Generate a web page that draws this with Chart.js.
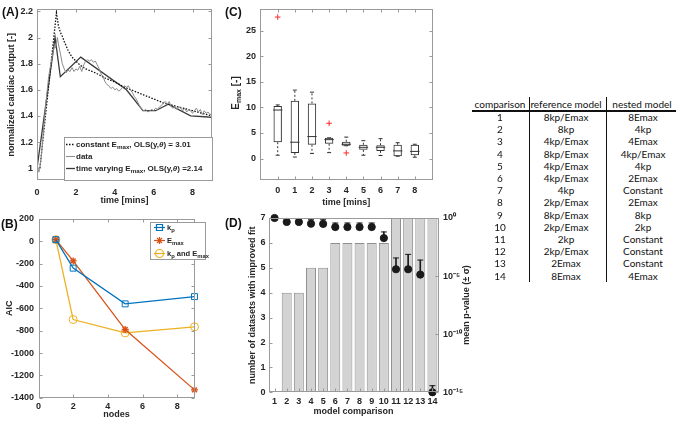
<!DOCTYPE html>
<html>
<head>
<meta charset="utf-8">
<script src="https://cdn.jsdelivr.net/npm/chart.js@4.4.1/dist/chart.umd.min.js"></script>
<style>
  body { margin: 0; background: #fff; }
  #wrap { position: relative; width: 676px; height: 422px; overflow: hidden; font-family: "Liberation Sans", Arial, sans-serif; color: #262626; }
  canvas { position: absolute; }
  .panel { position: absolute; font-weight: bold; font-size: 12px; color: #111; }
  .rot { position: absolute; font-weight: bold; white-space: nowrap; transform: translate(-50%, -50%) rotate(-90deg); }
  .rot sub { font-size: 7px; vertical-align: -2px; }
  .cell { position: absolute; font-family: Lato, sans-serif; font-size: 10px; color: #111; white-space: nowrap; transform: translate(-50%, -50%); }
  .rule { position: absolute; background: #111; }
</style>
</head>
<body>
<div id="wrap">
  <canvas id="cA" width="216" height="210" style="left:0;top:0"></canvas>
  <canvas id="cB" width="215" height="215" style="left:0;top:205px"></canvas>
  <canvas id="cC" width="215" height="210" style="left:225px;top:0"></canvas>
  <canvas id="cD" width="255" height="215" style="left:225px;top:205px"></canvas>
  <div class="panel" style="left:2px;top:5px">(A)</div>
  <div class="panel" style="left:1px;top:217px">(B)</div>
  <div class="panel" style="left:225px;top:5px">(C)</div>
  <div class="panel" style="left:225px;top:216px">(D)</div>
  <div class="rot" style="left:236px;top:93px;font-size:10px">E<sub>max</sub> [-]</div>
  <div class="rot" style="left:466px;top:305px;font-size:9px">mean p-value (± σ)</div>
</div>
<script>
// (A) normalized cardiac output
const timeData = [0, 0.1, 0.2, 0.3, 0.4, 0.5, 0.6, 0.7, 0.8, 0.9, 0.95, 1.0, 1.05, 1.1, 1.2, 1.3, 1.4, 1.5, 1.6, 1.7, 1.8, 1.9,
  2.0, 2.1, 2.2, 2.3, 2.4, 2.5, 2.6, 2.7, 2.8, 2.9, 3.0, 3.1, 3.2, 3.3, 3.4, 3.5, 3.6, 3.7, 3.8, 3.9, 4.0, 4.1, 4.2, 4.3,
  4.4, 4.5, 4.6, 4.7, 4.8, 4.9, 5.0, 5.1, 5.2, 5.3, 5.4, 5.5, 5.6, 5.7, 5.8, 5.9, 6.0, 6.1, 6.2, 6.3, 6.4, 6.5, 6.6, 6.7,
  6.8, 6.9, 7.0, 7.1, 7.2, 7.3, 7.4, 7.5, 7.6, 7.7, 7.8, 7.9, 8.0, 8.1, 8.2, 8.3, 8.4, 8.5, 8.6, 8.7, 8.8, 8.9, 9.0];
const outputData = [1.02, 0.97, 1.06, 1.22, 1.40, 1.56, 1.70, 1.79, 1.87, 1.94, 1.92, 1.96, 2.00, 1.95, 1.88, 1.80, 1.76, 1.73, 1.75, 1.74, 1.77, 1.74,
  1.76, 1.75, 1.78, 1.74, 1.79, 1.82, 1.83, 1.82, 1.83, 1.81, 1.82, 1.79, 1.76, 1.72, 1.70, 1.66, 1.64, 1.63, 1.61, 1.62, 1.60, 1.61, 1.59, 1.60,
  1.62, 1.63, 1.62, 1.63, 1.60, 1.58, 1.55, 1.53, 1.50, 1.47, 1.45, 1.44, 1.45, 1.43, 1.44, 1.45, 1.44, 1.46, 1.45, 1.47, 1.48, 1.50, 1.51, 1.49,
  1.51, 1.47, 1.46, 1.47, 1.45, 1.47, 1.46, 1.44, 1.46, 1.43, 1.45, 1.44, 1.42, 1.44, 1.46, 1.43, 1.45, 1.41, 1.44, 1.42, 1.43, 1.41, 1.42];
const timeConst = [0, 0.15, 1.0, 1.1, 1.2, 1.3, 1.4, 1.6, 1.8, 2.0, 2.2, 2.5, 3.0, 3.5, 4.0, 4.5, 5.0, 5.5, 6.0, 6.5, 7.0, 7.5, 8.0, 8.5, 9.0];
const outputConst = [1.0, 1.0, 2.19, 2.09, 2.04, 2.01, 1.97, 1.90, 1.85, 1.82, 1.79, 1.76, 1.73, 1.69, 1.66, 1.62, 1.59, 1.56, 1.53, 1.50, 1.48, 1.46, 1.44, 1.42, 1.40];
const timeVarying = [0, 0.93, 1.2, 2.25, 4.6, 5.45, 6.1, 6.75, 7.9, 9.0];
const outputVarying = [1.0, 2.0, 1.70, 1.85, 1.60, 1.44, 1.44, 1.49, 1.40, 1.39];
const ticksAx = [0, 2, 4, 6, 8];
const ticksAy = [1, 1.2, 1.4, 1.6, 1.8, 2, 2.2];

// (B) AIC vs nodes
const nodes = [1, 2, 5, 9];
const aicKp = [15, -240, -560, -495];
const aicEmax = [15, -175, -790, -1330];
const aicBoth = [15, -700, -820, -765];
const ticksBx = [0, 2, 4, 6, 8];
const ticksBy = [200, 0, -200, -400, -600, -800, -1000, -1200, -1400];

// (C) Emax box plots
const cTime = [0, 1, 2, 3, 4, 5, 6, 7, 8];
const cWhiskLo = [0.65, 0.3, 1.0, 1.16, 2.5, 0.65, 0.6, 0.45, 0.26];
const cQ1 = [3.2, 1.1, 2.7, 2.9, 2.5, 1.7, 1.5, 0.45, 0.65];
const cMedian = [9.5, 3.2, 4.3, 3.7, 2.8, 2.2, 2.2, 1.5, 1.4];
const cQ3 = [10.3, 11.3, 10.8, 4.06, 3.3, 2.7, 2.6, 2.7, 2.7];
const cWhiskHi = [10.5, 13.4, 13.0, 4.06, 4.2, 3.5, 3.9, 3.1, 2.8];
const cOutX = [0, 3, 4];
const cOutY = [27.7, 6.9, 1.1];
const ticksCy = [0, 5, 10, 15, 20, 25];

// (D) improved fits and p-values
const comparisons = ['1', '2', '3', '4', '5', '6', '7', '8', '9', '10', '11', '12', '13', '14'];
const improvedCount = [0, 4, 4, 5, 5, 6, 6, 6, 6, 6, 7, 7, 7, 7];
const meanLogP = [0, -0.34, -0.34, -0.49, -0.51, -0.78, -0.78, -0.78, -0.78, -1.73, -4.41, -4.41, -4.87, -15];
const upperLogP = [null, -0.06, -0.06, -0.15, -0.15, -0.43, -0.43, -0.43, -0.43, -1.2, -3.44, -3.13, -3.62, -14.43];
const ticksDy = [0, 1, 2, 3, 4, 5, 6, 7];
const ticksDp = [-15, -10, -5, 0];

// table
const refModel = ['8kp/Emax', '8kp', '4kp/Emax', '8kp/Emax', '4kp/Emax', '4kp/Emax', '4kp', '2kp/Emax', '8kp/Emax', '2kp/Emax', '2kp', '2kp/Emax', '2Emax', '8Emax'];
const nestedModel = ['8Emax', '4kp', '4Emax', '4kp/Emax', '4kp', '2Emax', 'Constant', '2Emax', '8kp', '2kp', 'Constant', 'Constant', 'Constant', '4Emax'];

Chart.defaults.font.family = '"Liberation Sans", Arial, sans-serif';
Chart.defaults.font.size = 9;
Chart.defaults.font.weight = 'bold';
Chart.defaults.color = '#262626';

const fit = n => s => { if (s.isHorizontal()) s.height = n; else s.width = n; };
const setTicks = arr => s => { s.ticks = arr.map(v => ({ value: v })); };
const plain = v => String(v);
const noGrid = { display: false, drawTicks: false };
const pts = (xs, ys) => xs.map((x, i) => ({ x: x, y: ys[i] }));
const SUP = { '-': '⁻', '0': '⁰', '1': '¹', '2': '²', '3': '³', '4': '⁴', '5': '⁵', '6': '⁶', '7': '⁷', '8': '⁸', '9': '⁹' };
const pow10 = v => '10' + String(v).split('').map(c => SUP[c]).join('');

// box round the axes with small inward ticks, like matlab
const framePlugin = {
  id: 'frame',
  afterDraw(chart, args, o) {
    const { ctx, chartArea: a } = chart;
    ctx.save();
    ctx.strokeStyle = '#9a9a9a';
    ctx.lineWidth = 1;
    const L = Math.round(a.left) + 0.5, T = Math.round(a.top) + 0.5, R = Math.round(a.right) - 0.5, B = Math.round(a.bottom) - 0.5;
    ctx.strokeRect(L, T, R - L, B - T);
    ctx.beginPath();
    Object.values(chart.scales).forEach(s => {
      s.ticks.forEach((t, i) => {
        const p = Math.round(s.getPixelForTick(i)) + 0.5;
        if (s.isHorizontal()) {
          ctx.moveTo(p, B); ctx.lineTo(p, B - 3);
          if (o.both) { ctx.moveTo(p, T); ctx.lineTo(p, T + 3); }
        } else {
          if (s.position === 'left' || o.both) { ctx.moveTo(L, p); ctx.lineTo(L + 3, p); }
          if (s.position === 'right' || o.both) { ctx.moveTo(R, p); ctx.lineTo(R - 3, p); }
        }
      });
    });
    ctx.stroke();
    ctx.restore();
  }
};

function drawMarker(ctx, style, x, y) {
  ctx.beginPath();
  if (style === 'rect') {
    ctx.rect(x - 3, y - 3, 6, 6);
  } else if (style === 'circle') {
    ctx.arc(x, y, 4, 0, Math.PI * 2);
  } else if (style === 'star') {
    const r = 3.5, d = r * Math.SQRT1_2;
    ctx.moveTo(x - r, y); ctx.lineTo(x + r, y);
    ctx.moveTo(x, y - r); ctx.lineTo(x, y + r);
    ctx.moveTo(x - d, y - d); ctx.lineTo(x + d, y + d);
    ctx.moveTo(x - d, y + d); ctx.lineTo(x + d, y - d);
  }
  ctx.stroke();
}

// legend drawn by hand so that subscripts work
const legendPlugin = {
  id: 'legendBox',
  afterDraw(chart, args, o) {
    if (!o.rows) return;
    const ctx = chart.ctx;
    ctx.save();
    ctx.fillStyle = '#fff';
    ctx.fillRect(o.x, o.y, o.w, o.h);
    ctx.strokeStyle = '#9a9a9a';
    ctx.lineWidth = 1;
    ctx.strokeRect(o.x + 0.5, o.y + 0.5, o.w - 1, o.h - 1);
    o.rows.forEach((r, i) => {
      const cy = o.y + o.top + i * o.step;
      ctx.strokeStyle = r.color;
      ctx.lineWidth = r.width;
      ctx.setLineDash(r.dash || []);
      ctx.beginPath();
      ctx.moveTo(o.x + o.sx, cy);
      ctx.lineTo(o.x + o.sx + o.sw, cy);
      ctx.stroke();
      ctx.setLineDash([]);
      if (r.marker) drawMarker(ctx, r.marker, o.x + o.sx + o.sw / 2, cy);
      let tx = o.x + o.tx;
      ctx.fillStyle = '#262626';
      ctx.textBaseline = 'middle';
      r.text.forEach(([s, k]) => {
        const size = k === 'sub' ? o.size * 0.78 : o.size;
        ctx.font = (k === 'it' ? 'italic ' : '') + 'bold ' + size + 'px "Liberation Sans", Arial';
        ctx.fillText(s, tx, k === 'sub' ? cy + o.size * 0.4 : cy);
        tx += ctx.measureText(s).width;
      });
    });
    ctx.restore();
  }
};

const base = {
  responsive: false,
  animation: false,
  elements: { point: { radius: 0 }, line: { tension: 0 } }
};

// (A)
new Chart(document.getElementById('cA'), {
  type: 'line',
  data: {
    datasets: [
      { data: pts(timeData, outputData), borderColor: '#8c8c8c', borderWidth: 1 },
      { data: pts(timeConst, outputConst), borderColor: '#111', borderWidth: 1.3, borderDash: [1.5, 1.5] },
      { data: pts(timeVarying, outputVarying), borderColor: '#3a3a3a', borderWidth: 1.3 }
    ]
  },
  options: {
    ...base,
    layout: { padding: { top: 7, right: 4, left: 0, bottom: 0 } },
    plugins: {
      legend: { display: false }, tooltip: { enabled: false },
      frame: { both: true },
      legendBox: {
        x: 64, y: 137, w: 149, h: 44, top: 7.5, step: 12, sx: 2, sw: 9, tx: 12, size: 8,
        rows: [
          { color: '#111', width: 1.3, dash: [1.5, 1.5], text: [['constant E', ''], ['max', 'sub'], [', OLS(y,', ''], ['θ', 'it'], [') = 3.01', '']] },
          { color: '#8c8c8c', width: 1, text: [['data', '']] },
          { color: '#3a3a3a', width: 1.3, text: [['time varying E', ''], ['max', 'sub'], [', OLS(y,', ''], ['θ', 'it'], [') =2.14', '']] }
        ]
      }
    },
    scales: {
      x: {
        type: 'linear', min: 0, max: 9, grid: noGrid, border: { display: false },
        afterBuildTicks: setTicks(ticksAx), afterFit: fit(30),
        ticks: { padding: 7, callback: plain },
        title: { display: true, text: 'time [mins]', padding: { top: 0, bottom: 3.6 } }
      },
      y: {
        min: 0.91, max: 2.215, grid: noGrid, border: { display: false },
        afterBuildTicks: setTicks(ticksAy), afterFit: fit(37),
        ticks: { padding: 4, callback: plain },
        title: { display: true, text: 'normalized cardiac output [-]', padding: { top: 6.6, bottom: 0 } }
      }
    }
  },
  plugins: [framePlugin, legendPlugin]
});

// (B)
new Chart(document.getElementById('cB'), {
  type: 'line',
  data: {
    datasets: [
      { data: pts(nodes, aicKp), borderColor: '#0072BD', borderWidth: 1.3, pointStyle: 'rect', pointRadius: 4.2, pointBorderWidth: 1, pointBackgroundColor: 'rgba(0,0,0,0)', clip: false },
      { data: pts(nodes, aicEmax), borderColor: '#D95319', borderWidth: 1.3, pointStyle: 'star', pointRadius: 3.5, pointBorderWidth: 1.4, clip: false },
      { data: pts(nodes, aicBoth), borderColor: '#EDB120', borderWidth: 1.3, pointStyle: 'circle', pointRadius: 4, pointBorderWidth: 1, pointBackgroundColor: 'rgba(0,0,0,0)', clip: false }
    ]
  },
  options: {
    ...base,
    layout: { padding: { top: 14, right: 20.5, left: 0, bottom: 0 } },
    plugins: {
      legend: { display: false }, tooltip: { enabled: false },
      frame: { both: true },
      legendBox: {
        x: 150, y: 17, w: 56, h: 38, top: 5.5, step: 13, sx: 4, sw: 11, tx: 17, size: 7.5,
        rows: [
          { color: '#0072BD', width: 1.2, marker: 'rect', text: [['k', ''], ['p', 'sub']] },
          { color: '#D95319', width: 1.2, marker: 'star', text: [['E', ''], ['max', 'sub']] },
          { color: '#EDB120', width: 1.2, marker: 'circle', text: [['k', ''], ['p', 'sub'], [' and E', ''], ['max', 'sub']] }
        ]
      }
    },
    scales: {
      x: {
        type: 'linear', min: 0, max: 9, grid: noGrid, border: { display: false },
        afterBuildTicks: setTicks(ticksBx), afterFit: fit(22.3),
        ticks: { padding: 3.5, callback: plain },
        title: { display: true, text: 'nodes', padding: { top: 0, bottom: 0 } }
      },
      y: {
        min: -1400, max: 200, grid: noGrid, border: { display: false },
        afterBuildTicks: setTicks(ticksBy), afterFit: fit(38.5),
        ticks: { padding: 4.5, callback: plain },
        title: { display: true, text: 'AIC', padding: { top: 4.6, bottom: 0 } }
      }
    }
  },
  plugins: [framePlugin, legendPlugin]
});

// (C)
const stems = [];
cTime.forEach((x, i) => {
  stems.push({ x: x, y: cQ3[i] }, { x: x, y: cWhiskHi[i] }, { x: x, y: null });
  stems.push({ x: x, y: cQ1[i] }, { x: x, y: cWhiskLo[i] }, { x: x, y: null });
});
new Chart(document.getElementById('cC'), {
  type: 'bar',
  data: {
    datasets: [
      { type: 'bar', data: cTime.map((x, i) => ({ x: x, y: [cQ1[i], cQ3[i]] })), backgroundColor: 'rgba(0,0,0,0)', borderColor: '#333', borderWidth: 1, borderSkipped: false, barPercentage: 0.49, categoryPercentage: 1, grouped: false },
      { type: 'line', data: stems, borderColor: '#333', borderWidth: 1, borderDash: [2, 2], pointRadius: 0, spanGaps: false },
      { type: 'scatter', data: pts(cTime, cMedian), pointStyle: 'line', pointRadius: 4.7, borderColor: '#333', pointBorderWidth: 1 },
      { type: 'scatter', data: pts(cTime, cWhiskHi).concat(pts(cTime, cWhiskLo)), pointStyle: 'line', pointRadius: 2, borderColor: '#333', pointBorderWidth: 1 },
      { type: 'scatter', data: pts(cOutX, cOutY), pointStyle: 'cross', pointRadius: 2.8, borderColor: '#ff2a2a', pointBorderWidth: 1 }
    ]
  },
  options: {
    ...base,
    layout: { padding: { top: 7, right: 7, left: 0, bottom: 0 } },
    plugins: { legend: { display: false }, tooltip: { enabled: false }, frame: { both: true } },
    scales: {
      x: {
        type: 'linear', min: -0.5, max: 8.5, grid: noGrid, border: { display: false },
        afterBuildTicks: setTicks(cTime), afterFit: fit(30),
        ticks: { padding: 5, callback: plain },
        title: { display: true, text: 'time [mins]', padding: { top: 0, bottom: 1.6 } }
      },
      y: {
        min: -4.2, max: 29.3, grid: noGrid, border: { display: false },
        afterBuildTicks: setTicks(ticksCy), afterFit: fit(34.5),
        ticks: { padding: 3.5, callback: plain }
      }
    }
  },
  plugins: [framePlugin]
});

// (D)
new Chart(document.getElementById('cD'), {
  type: 'bar',
  data: {
    labels: comparisons,
    datasets: [
      { type: 'line', data: meanLogP, yAxisID: 'y2', showLine: false, pointRadius: 3.6, pointBackgroundColor: '#1a1a1a', pointBorderColor: '#1a1a1a', clip: false, order: 1 },
      { type: 'line', data: upperLogP, yAxisID: 'y2', showLine: false, pointStyle: 'line', pointRadius: 3, pointBorderColor: '#1a1a1a', pointBorderWidth: 1, clip: false, order: 1 },
      { type: 'bar', data: meanLogP.map((m, i) => upperLogP[i] === null ? null : [m, upperLogP[i]]), yAxisID: 'y2', backgroundColor: '#1a1a1a', barThickness: 1, grouped: false, order: 2 },
      { type: 'bar', data: improvedCount, yAxisID: 'y', backgroundColor: '#d3d3d3', borderColor: '#8f8f8f', borderWidth: 1, barPercentage: 0.82, categoryPercentage: 1, grouped: false, order: 3 }
    ]
  },
  options: {
    ...base,
    layout: { padding: { top: 13, right: 0, left: 0, bottom: 0 } },
    plugins: { legend: { display: false }, tooltip: { enabled: false }, frame: { both: false } },
    scales: {
      x: {
        grid: noGrid, border: { display: false }, afterFit: fit(27.7),
        ticks: { padding: 3.5, autoSkip: false, maxRotation: 0 },
        title: { display: true, text: 'model comparison', padding: { top: 0, bottom: 2.9 } }
      },
      y: {
        position: 'left', min: 0, max: 7, grid: noGrid, border: { display: false },
        afterBuildTicks: setTicks(ticksDy), afterFit: fit(43.5),
        ticks: { padding: 3, callback: plain },
        title: { display: true, text: 'number of datasets with improved fit', padding: { top: 22.6, bottom: 0 } }
      },
      y2: {
        position: 'right', min: -15, max: 0, grid: noGrid, border: { display: false },
        afterBuildTicks: setTicks(ticksDp), afterFit: fit(41.5),
        ticks: { padding: 4.5, callback: pow10 }
      }
    }
  },
  plugins: [framePlugin]
});

// comparison table
const wrap = document.getElementById('wrap');
function cell(text, x, y) {
  const d = document.createElement('div');
  d.className = 'cell';
  d.textContent = text;
  d.style.left = x + 'px';
  d.style.top = y + 'px';
  wrap.appendChild(d);
}
function rule(x, y, w, h) {
  const d = document.createElement('div');
  d.className = 'rule';
  d.style.cssText = `left:${x}px;top:${y}px;width:${w}px;height:${h}px`;
  wrap.appendChild(d);
}
cell('comparison', 500, 104);
cell('reference model', 566, 104);
cell('nested model', 642, 104);
comparisons.forEach((c, i) => {
  const y = 117 + i * 12.2;
  cell(c, 500, y);
  cell(refModel[i], 566, y);
  cell(nestedModel[i], 643, y);
});
rule(472, 110, 204, 1.5);
rule(528.5, 97, 1.5, 185);
rule(605.5, 97, 1.5, 185);
</script>
</body>
</html>
